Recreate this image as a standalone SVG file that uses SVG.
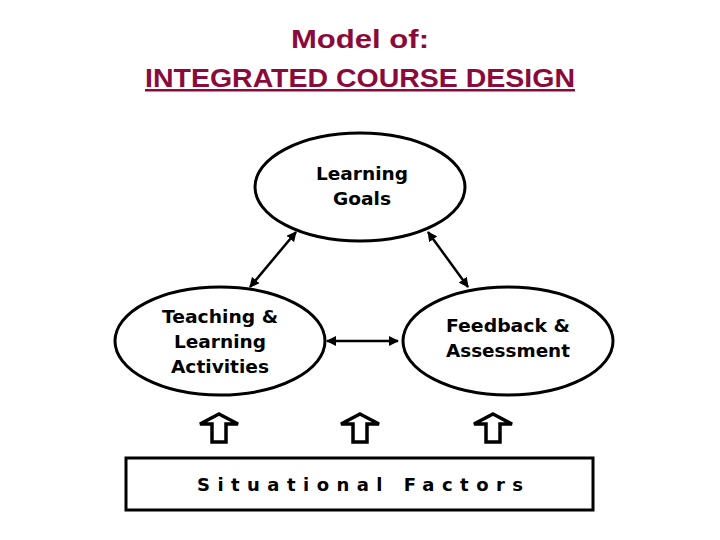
<svg xmlns="http://www.w3.org/2000/svg" width="720" height="540" viewBox="0 0 720 540">
<style>
.t{font-family:"Liberation Sans",Arial,sans-serif;font-weight:bold;fill:#8b0a3c;font-size:25px;text-anchor:middle}
.n{font-family:"DejaVu Sans",Verdana,sans-serif;font-weight:bold;font-size:18px;text-anchor:middle;fill:#000}
.e{fill:#fff;stroke:#000;stroke-width:3}
.c{stroke:#000;stroke-width:2.5;marker-start:url(#a);marker-end:url(#a)}
.u{fill:#fff;stroke:#000;stroke-width:3.5;stroke-linejoin:miter}
</style>
<defs><marker id="a" viewBox="0 0 10 10" refX="9" refY="5" markerWidth="4" markerHeight="4" orient="auto-start-reverse"><path d="M0,0L10,5L0,10z" fill="#000"/></marker></defs>
<rect width="720" height="540" fill="#fff"/>
<text class="t" x="360" y="48" textLength="138" lengthAdjust="spacingAndGlyphs">Model of:</text>
<text class="t" x="360" y="87" text-decoration="underline" textLength="430" lengthAdjust="spacingAndGlyphs">INTEGRATED COURSE DESIGN</text>
<g id="goals"><ellipse class="e" cx="360" cy="187" rx="105" ry="54"/><text class="n" x="362" y="180" textLength="92" lengthAdjust="spacingAndGlyphs">Learning</text><text class="n" x="362" y="205" textLength="58" lengthAdjust="spacingAndGlyphs">Goals</text></g>
<g id="teaching"><ellipse class="e" cx="220" cy="341" rx="105" ry="54"/><text class="n" x="220" y="323" textLength="116" lengthAdjust="spacingAndGlyphs">Teaching &amp;</text><text class="n" x="220" y="348" textLength="92" lengthAdjust="spacingAndGlyphs">Learning</text><text class="n" x="220" y="373" textLength="98" lengthAdjust="spacingAndGlyphs">Activities</text></g>
<g id="feedback"><ellipse class="e" cx="508" cy="341" rx="105" ry="54"/><text class="n" x="508" y="332" textLength="124" lengthAdjust="spacingAndGlyphs">Feedback &amp;</text><text class="n" x="508" y="357" textLength="124" lengthAdjust="spacingAndGlyphs">Assessment</text></g>
<g id="connectors">
<line class="c" x1="250" y1="287" x2="296" y2="232"/>
<line class="c" x1="468" y1="287" x2="428" y2="232"/>
<line class="c" x1="327" y1="341" x2="398" y2="341"/>
</g>
<g id="ups">
<path class="u" d="M219,414L238,424L226,424L226,442L212,442L212,424L200,424Z"/>
<path class="u" d="M360,414L379,424L367,424L367,442L353,442L353,424L341,424Z"/>
<path class="u" d="M493,414L512,424L500,424L500,442L486,442L486,424L474,424Z"/>
</g>
<g id="factors"><rect x="126" y="458" width="467" height="52" fill="#fff" stroke="#000" stroke-width="3"/>
<text class="n" x="360" y="491" font-size="20" textLength="326" lengthAdjust="spacing">Situational  Factors</text></g>
</svg>
